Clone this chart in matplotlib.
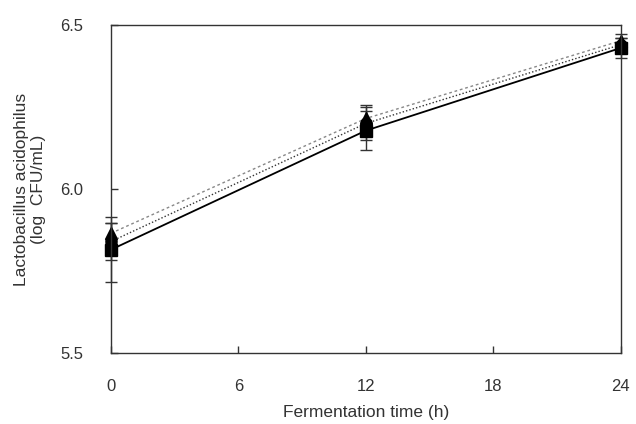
import numpy as np
import matplotlib
matplotlib.use("Agg")
import matplotlib.pyplot as plt

plt.rcParams['font.family'] = ['Liberation Sans', 'DejaVu Sans']

time_h = [0, 12, 24]
# three treatments
sq_mean = [5.815, 6.178, 6.430]
sq_err = [0.10, 0.06, 0.03]
ci_mean = [5.84, 6.200, 6.440]
ci_err = [0.055, 0.05, 0.02]
tr_mean = [5.865, 6.215, 6.452]
tr_err = [0.03, 0.04, 0.02]

fig = plt.figure(figsize=(6.36, 4.24), dpi=100)
ax = fig.add_axes([0.1745, 0.1675, 0.8015, 0.7735])

kw = dict(capsize=4, elinewidth=1, capthick=1, ecolor='#333333', clip_on=False)
ax.errorbar(time_h, tr_mean, yerr=tr_err, fmt='^-', color='#888888', ls=(0, (2, 2)), lw=1,
            mfc='black', mec='black', ms=8, **kw)
ax.errorbar(time_h, ci_mean, yerr=ci_err, fmt='o-', color='#333333', ls=(0, (1, 1.5)), lw=1,
            mfc='black', mec='black', ms=8, **kw)
ax.errorbar(time_h, sq_mean, yerr=sq_err, fmt='s-', color='black', lw=1.3,
            mfc='black', mec='black', ms=8, **kw)

ax.set_xlim(0, 24)
ax.set_ylim(5.5, 6.5)
ax.set_xticks([0, 6, 12, 18, 24])
ax.set_yticks([5.5, 6.0, 6.5])
ax.set_yticklabels(['5.5', '6.0', '6.5'])
ax.tick_params(direction='in', length=5, width=1, colors='#333333', labelsize=12)
ax.tick_params(axis='x', pad=19)
ax.tick_params(axis='y', pad=20)
for s in ax.spines.values():
    s.set_color('#333333')
    s.set_linewidth(1)

ax.set_xlabel('Fermentation time (h)', fontsize=12.5, color='#333333', labelpad=8)
ax.set_ylabel('Lactobacillus acidophilus\n(log  CFU/mL)', fontsize=12.5, color='#333333', labelpad=10)

fig.savefig('out.png', dpi=100)
